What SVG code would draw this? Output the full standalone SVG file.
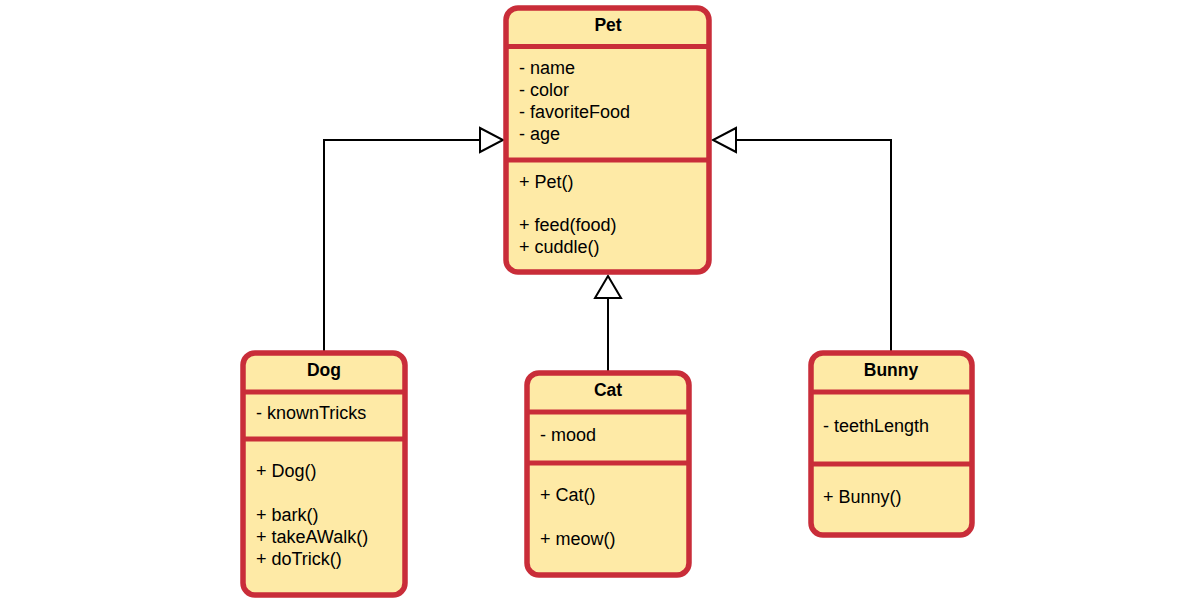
<svg xmlns="http://www.w3.org/2000/svg" width="1183" height="602" viewBox="0 0 1183 602">
<style>
.box{fill:#FEEAA6;stroke:#C92D39;stroke-width:5.5}
.div{stroke:#C92D39;stroke-width:5}
.t{font-family:"Liberation Sans",Arial,sans-serif;font-size:18px;fill:#000}
.h{font-family:"Liberation Sans",Arial,sans-serif;font-size:17.5px;font-weight:bold;fill:#000;text-anchor:middle}
.c{fill:none;stroke:#000;stroke-width:2}
.a{fill:#fff;stroke:#000;stroke-width:2}
</style>
<rect width="1183" height="602" fill="#fff"/>
<g id="connectors">
<polyline class="c" points="324,353 324,140 480,140"/>
<polygon class="a" points="480,128 503,140 480,152"/>
<polyline class="c" points="891,353 891,140 736,140"/>
<polygon class="a" points="736,128 713,140 736,152"/>
<line class="c" x1="608" y1="373" x2="608" y2="298"/>
<polygon class="a" points="595,298 608,276 621,298"/>
</g>
<g id="pet">
<rect class="box" x="506" y="8" width="203" height="264" rx="12"/>
<line class="div" x1="506" y1="46.5" x2="709" y2="46.5"/>
<line class="div" x1="506" y1="160" x2="709" y2="160"/>
<text class="h" x="608" y="31">Pet</text>
<text class="t" x="519" y="74">- name</text>
<text class="t" x="519" y="96">- color</text>
<text class="t" x="519" y="118">- favoriteFood</text>
<text class="t" x="519" y="140">- age</text>
<text class="t" x="519" y="188">+ Pet()</text>
<text class="t" x="519" y="231">+ feed(food)</text>
<text class="t" x="519" y="253">+ cuddle()</text>
</g>
<g id="dog">
<rect class="box" x="243" y="353" width="162" height="242" rx="12"/>
<line class="div" x1="243" y1="392" x2="405" y2="392"/>
<line class="div" x1="243" y1="439" x2="405" y2="439"/>
<text class="h" x="324" y="376">Dog</text>
<text class="t" x="256" y="419">- knownTricks</text>
<text class="t" x="256" y="477">+ Dog()</text>
<text class="t" x="256" y="521">+ bark()</text>
<text class="t" x="256" y="543">+ takeAWalk()</text>
<text class="t" x="256" y="565">+ doTrick()</text>
</g>
<g id="cat">
<rect class="box" x="527" y="373" width="162" height="202" rx="12"/>
<line class="div" x1="527" y1="412" x2="689" y2="412"/>
<line class="div" x1="527" y1="463" x2="689" y2="463"/>
<text class="h" x="608" y="396">Cat</text>
<text class="t" x="540" y="441">- mood</text>
<text class="t" x="540" y="501">+ Cat()</text>
<text class="t" x="540" y="545">+ meow()</text>
</g>
<g id="bunny">
<rect class="box" x="811" y="353" width="161" height="182" rx="12"/>
<line class="div" x1="811" y1="392" x2="972" y2="392"/>
<line class="div" x1="811" y1="464" x2="972" y2="464"/>
<text class="h" x="891" y="376">Bunny</text>
<text class="t" x="823" y="432">- teethLength</text>
<text class="t" x="823" y="503">+ Bunny()</text>
</g>
</svg>
